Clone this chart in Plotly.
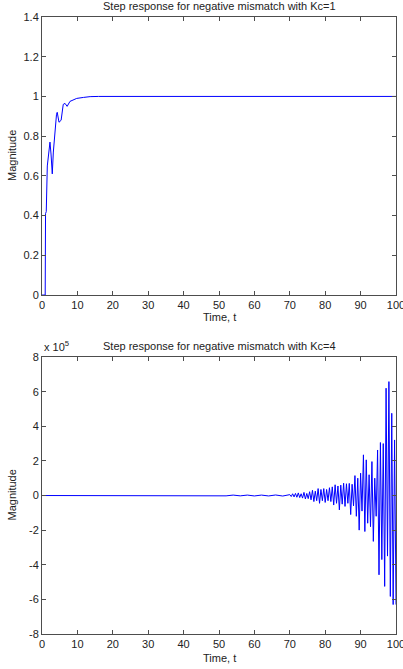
"""
Step response plots for negative mismatch (Kc=1 and Kc=4), MATLAB-style figure
"""

import plotly.graph_objects as go

# Kc=1 step response
t_kc1 = [0, 0.9, 1.0, 1.2, 1.5, 1.9, 2.25, 2.55, 2.9, 3.2, 3.65, 4.1, 4.3, 4.8,
         5.4, 6.0, 6.5, 7.1, 7.9, 8.8, 9.8, 11.7, 13.6, 16, 100]
y_kc1 = [0, 0, 0.41, 0.42, 0.65, 0.72, 0.77, 0.71, 0.61, 0.72, 0.83, 0.91, 0.92, 0.87,
         0.88, 0.96, 0.965, 0.95, 0.975, 0.983, 0.99, 0.995, 0.999, 1.0, 1.0]

# Kc=4 step response, values in units of 1e5
t_kc4_quiet = [0, 16, 18, 20, 22, 24, 26, 28, 30, 32, 34, 36, 38, 40, 42, 44, 46,
               48, 50, 52, 54, 56, 58, 60, 62, 64, 66, 68]
y_kc4_quiet = [0, 0, 0.015, -0.015, 0.015, -0.015, 0.02, -0.015, 0.015, -0.02, 0.015, -0.015,
               0.02, -0.02, 0.015, -0.015, 0.02, -0.02, 0.02, -0.02, 0.025, -0.02, 0.025,
               -0.025, 0.025, -0.025, 0.03, -0.03]
osc_start = 70.0
osc_step = 0.4
y_kc4_osc = [0.05, -0.06, 0.1, -0.08, 0.12, -0.1, 0.15, -0.12, 0.1, -0.15,
             0.18, -0.2, 0.12, -0.18, 0.22, -0.25, 0.3, -0.35, 0.25, -0.3,
             0.4, -0.45, 0.35, -0.3, 0.4, -0.4, 0.35, -0.3, 0.45, -0.35,
             0.5, -0.55, 0.62, -0.45, 0.55, -0.83, 0.6, -0.5, 0.71, -0.63,
             0.68, -0.45, 0.7, -1.1, 0.65, -0.6, 1.15, -1.2, 1.0, -2.0,
             1.29, -0.9, 2.35, -2.08, 2.06, -1.6, 1.2, -1.8, 1.96, -2.65,
             1.0, -1.2, 2.63, -4.58, 3.06, -3.7, 3.0, -5.25, 6.2, -3.5,
             6.58, -5.83, 4.75, -6.3, 3.21, -6.3]
t_kc4_osc = [osc_start + osc_step * i for i in range(len(y_kc4_osc))]

t_kc4 = t_kc4_quiet + t_kc4_osc
y_kc4 = y_kc4_quiet + y_kc4_osc

x_ticks = [0, 10, 20, 30, 40, 50, 60, 70, 80, 90, 100]
y_ticks_kc4 = [-8, -6, -4, -2, 0, 2, 4, 6, 8]
y_ticktext_kc4 = [str(v) for v in y_ticks_kc4]

FONT = 'Liberation Sans, Arial, sans-serif'
AXIS_COLOR = '#4d4d4d'
TEXT_COLOR = '#222222'

fig = go.Figure()

fig.add_trace(go.Scatter(x=t_kc1, y=y_kc1, mode='lines',
                         line=dict(color='#0000ff', width=1),
                         xaxis='x', yaxis='y', showlegend=False))
fig.add_trace(go.Scatter(x=t_kc4, y=y_kc4, mode='lines',
                         line=dict(color='#0000ff', width=1),
                         xaxis='x2', yaxis='y2', showlegend=False))

axis_style = dict(
    showline=True, linecolor=AXIS_COLOR, linewidth=1, mirror='ticks',
    ticks='inside', ticklen=4, tickcolor=AXIS_COLOR, showgrid=False,
    zeroline=False, tickfont=dict(family=FONT, size=11, color=TEXT_COLOR),
    ticklabeloverflow='allow', automargin=False,
)

# axes land at x 42..396, y 17..295 and 357..634
fig.update_layout(
    width=403, height=669,
    margin=dict(l=42, r=7, t=17, b=35, autoexpand=False),
    paper_bgcolor='white', plot_bgcolor='white',
    font=dict(family=FONT, size=11, color=TEXT_COLOR),
    xaxis=dict(domain=[0, 1], anchor='y', range=[0, 100], tickvals=x_ticks, **axis_style),
    yaxis=dict(domain=[0.5494, 1], anchor='x', range=[0, 1.4], dtick=0.2, **axis_style),
    xaxis2=dict(domain=[0, 1], anchor='y2', range=[0, 100], tickvals=x_ticks, **axis_style),
    yaxis2=dict(domain=[0, 0.4489], anchor='x2', range=[-8, 8], tickvals=y_ticks_kc4,
                ticktext=y_ticktext_kc4, **axis_style),
)

annotations = [
    dict(text='Step response for negative mismatch with Kc=1', xref='x domain', yref='y domain',
         x=0.5, y=1, xanchor='center', yanchor='middle', yshift=11),
    dict(text='Step response for negative mismatch with Kc=4', xref='x2 domain', yref='y2 domain',
         x=0.5, y=1, xanchor='center', yanchor='middle', yshift=11),
    dict(text='Time, t', xref='x domain', yref='y domain',
         x=0.5, y=0, xanchor='center', yanchor='middle', yshift=-22),
    dict(text='Time, t', xref='x2 domain', yref='y2 domain',
         x=0.5, y=0, xanchor='center', yanchor='middle', yshift=-24),
    dict(text='Magnitude', xref='x domain', yref='y domain', textangle=-90,
         x=0, y=0.5, xanchor='center', yanchor='middle', xshift=-30),
    dict(text='Magnitude', xref='x2 domain', yref='y2 domain', textangle=-90,
         x=0, y=0.5, xanchor='center', yanchor='middle', xshift=-30),
    dict(text='x 10<sup>5</sup>', xref='x2 domain', yref='y2 domain',
         x=0, y=1, xanchor='left', yanchor='middle', xshift=0, yshift=11),
]
for a in annotations:
    a['showarrow'] = False
    a['font'] = dict(family=FONT, size=11, color=TEXT_COLOR)
fig.update_layout(annotations=annotations)

# drop the page's default 8px body margin and scrollbars so the figure fills the window
fig.write_html(
    "out.html",
    config={'responsive': False, 'displayModeBar': False},
    post_script="document.body.style.margin = '0'; document.body.style.overflow = 'hidden';",
)
